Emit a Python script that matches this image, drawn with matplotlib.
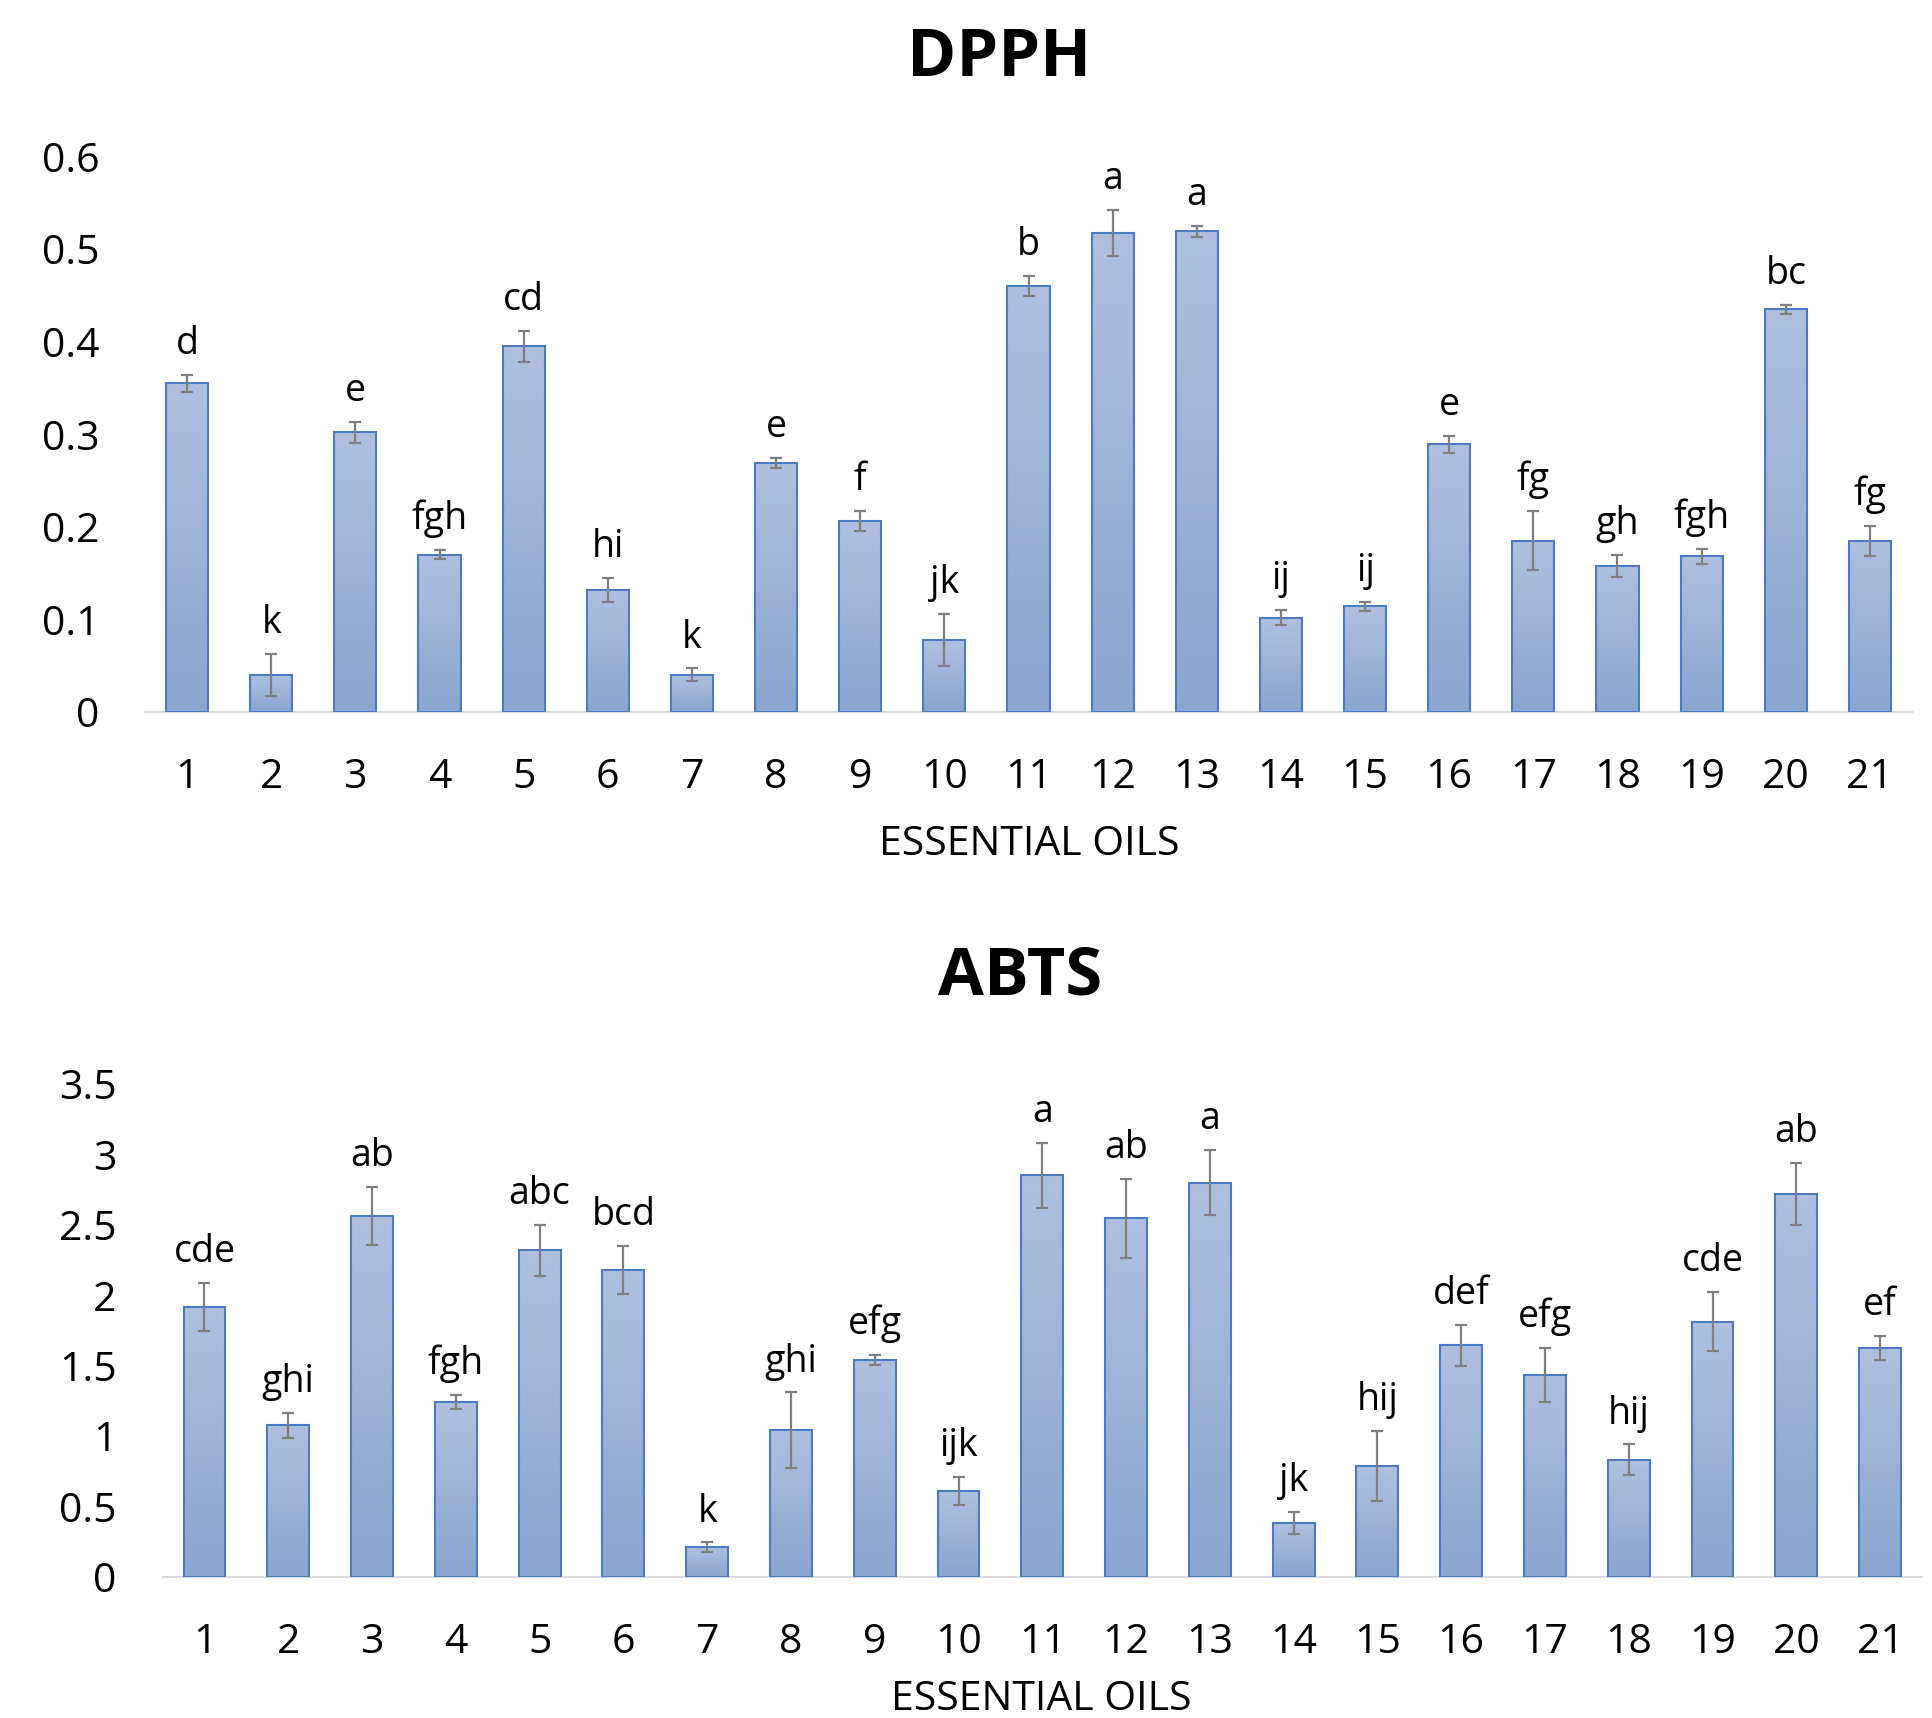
import matplotlib
matplotlib.use("Agg")
import matplotlib.pyplot as plt
import numpy as np
from matplotlib.colors import LinearSegmentedColormap

# ---------------- data ----------------
oils = [str(i) for i in range(1, 22)]

dpph = [0.355, 0.040, 0.302, 0.170, 0.395, 0.132, 0.040, 0.269, 0.206, 0.078,
        0.460, 0.517, 0.519, 0.102, 0.114, 0.289, 0.185, 0.158, 0.168, 0.435, 0.185]
dpph_err = [0.009, 0.023, 0.011, 0.005, 0.017, 0.013, 0.007, 0.005, 0.011, 0.028,
            0.011, 0.025, 0.006, 0.008, 0.005, 0.009, 0.032, 0.012, 0.008, 0.005, 0.016]
dpph_letters = ['d', 'k', 'e', 'fgh', 'cd', 'hi', 'k', 'e', 'f', 'jk', 'b', 'a', 'a',
                'ij', 'ij', 'e', 'fg', 'gh', 'fgh', 'bc', 'fg']
dpph_ticks = [0, 0.1, 0.2, 0.3, 0.4, 0.5, 0.6]

abts = [1.92, 1.076, 2.563, 1.242, 2.318, 2.178, 0.21, 1.041, 1.54, 0.612,
        2.852, 2.546, 2.80, 0.385, 0.787, 1.645, 1.435, 0.831, 1.811, 2.721, 1.627]
abts_err = [0.17, 0.087, 0.205, 0.05, 0.18, 0.17, 0.035, 0.27, 0.035, 0.10,
            0.23, 0.28, 0.23, 0.08, 0.25, 0.145, 0.19, 0.11, 0.21, 0.22, 0.087]
abts_letters = ['cde', 'ghi', 'ab', 'fgh', 'abc', 'bcd', 'k', 'ghi', 'efg', 'ijk', 'a', 'ab',
                'a', 'jk', 'hij', 'def', 'efg', 'hij', 'cde', 'ab', 'ef']
abts_ticks = [0, 0.5, 1, 1.5, 2, 2.5, 3, 3.5]

xlabel = 'ESSENTIAL OILS'

# ---------------- style ----------------
plt.rcParams['font.family'] = ['Open Sans', 'DejaVu Sans']
W, H = 1932, 1718
fig = plt.figure(figsize=(W / 100, H / 100), dpi=100)
cmap = LinearSegmentedColormap.from_list('g', ['#8aa5d0', '#afc0df'])
grad = np.linspace(0, 1, 256).reshape(-1, 1)


def panel(rect, vals, errs, letters, ticks, ymax):
    ax = fig.add_axes(rect)
    x = np.arange(1, len(vals) + 1)
    bars = ax.bar(x, vals, width=0.5, color='none', edgecolor='#4a7bc4',
                  linewidth=1.5, zorder=3)
    for b in bars:
        x0, y0, w, h = b.get_x(), b.get_y(), b.get_width(), b.get_height()
        ax.imshow(grad, extent=[x0, x0 + w, y0, y0 + h], origin='lower',
                  aspect='auto', cmap=cmap, zorder=2, interpolation='bilinear')
    ax.errorbar(x, vals, yerr=errs, fmt='none', ecolor='#7f7f7f',
                elinewidth=1.6, capsize=4.5, capthick=1.6, zorder=4)
    for xi, v, e, t in zip(x, vals, errs, letters):
        ax.annotate(t, (xi, v + e), xytext=(0, 15), textcoords='offset points',
                    ha='center', va='baseline', fontsize=27, color='black')
    ax.set_xlim(0.5, len(vals) + 0.5)
    ax.set_ylim(0, ymax)
    ax.set_yticks(ticks)
    ax.set_yticklabels([f'{t:g}' for t in ticks])
    ax.set_xticks(x)
    ax.set_xticklabels(oils)
    for s in ['top', 'right', 'left']:
        ax.spines[s].set_visible(False)
    ax.spines['bottom'].set_color('#d9d9d9')
    ax.spines['bottom'].set_linewidth(1.5)
    ax.tick_params(axis='both', length=0, labelsize=29.5)
    ax.tick_params(axis='y', pad=33)
    ax.tick_params(axis='x', pad=33)
    ax.set_facecolor('none')
    return ax


panel([145 / W, 1 - 712 / H, (1912 - 145) / W, (712 - 156.5) / H],
      dpph, dpph_err, dpph_letters, dpph_ticks, 0.6)
panel([162.6 / W, 1 - 1577 / H, (1922 - 162.6) / W, (1577 - 1084) / H],
      abts, abts_err, abts_letters, abts_ticks, 3.5)

fig.text(999 / W, 1 - 58 / H, 'DPPH', fontsize=48, fontweight='bold',
         ha='center', va='center')
fig.text(1020 / W, 1 - 977 / H, 'ABTS', fontsize=48, fontweight='bold',
         ha='center', va='center')
fig.text(1029 / W, 1 - 845 / H, xlabel, fontsize=29.5, ha='center', va='center')
fig.text(1041 / W, 1 - 1700 / H, xlabel, fontsize=29.5, ha='center', va='center')

fig.savefig('out.png', dpi=100, facecolor='white')
